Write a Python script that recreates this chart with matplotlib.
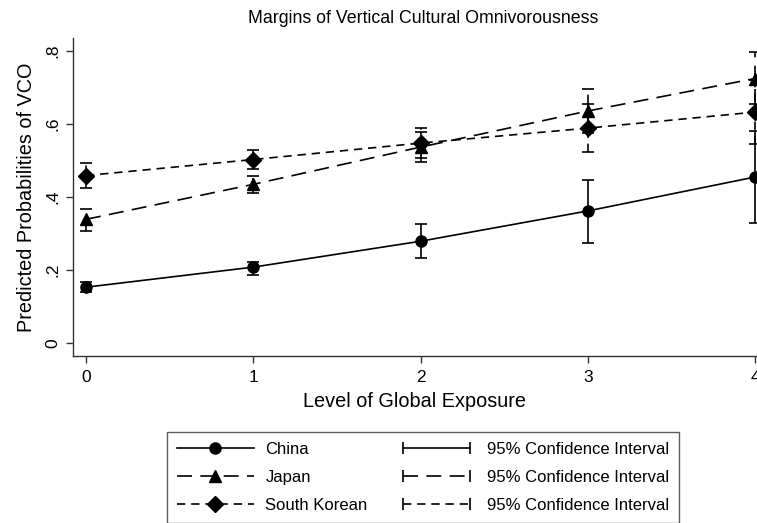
import matplotlib.pyplot as plt
from matplotlib.lines import Line2D
from matplotlib.legend_handler import HandlerLine2D

plt.rcParams['font.family'] = ['Liberation Sans', 'DejaVu Sans']

# Data
exposure = [0, 1, 2, 3, 4]

china = [0.153, 0.208, 0.279, 0.362, 0.455]
china_lo = [0.140, 0.186, 0.233, 0.274, 0.329]
china_hi = [0.167, 0.222, 0.326, 0.447, 0.581]

japan = [0.339, 0.435, 0.537, 0.636, 0.725]
japan_lo = [0.308, 0.411, 0.496, 0.576, 0.656]
japan_hi = [0.368, 0.459, 0.578, 0.696, 0.797]

korea = [0.459, 0.503, 0.548, 0.589, 0.633]
korea_lo = [0.425, 0.478, 0.507, 0.523, 0.545]
korea_hi = [0.493, 0.529, 0.590, 0.655, 0.721]

yticks = [0, 0.2, 0.4, 0.6, 0.8]
ytick_labels = ['0', '.2', '.4', '.6', '.8']

countries = ['China', 'Japan', 'South Korean']
values = [china, japan, korea]
lows = [china_lo, japan_lo, korea_lo]
highs = [china_hi, japan_hi, korea_hi]
markers = ['o', '^', 'D']
msizes = [8, 8, 8]
styles = ['-', (0, (9, 5)), (0, (5, 3.5))]

lw = 1.2
fig = plt.figure(figsize=(7.57, 5.23), dpi=100)
ax = fig.add_axes([0.0964, 0.3193, 0.9036, 0.6077])

handles = []
ci_handles = []
for name, v, lo, hi, m, ms, ls in zip(countries, values, lows, highs, markers, msizes, styles):
    yerr = [[a - b for a, b in zip(v, lo)], [b - a for a, b in zip(v, hi)]]
    eb = ax.errorbar(exposure, v, yerr=yerr, fmt='none', ecolor='black',
                     elinewidth=lw, capsize=4.5, capthick=lw)
    eb[2][0].set_linestyle(ls)
    ln, = ax.plot(exposure, v, color='black', lw=lw, linestyle=ls,
                  marker=m, markersize=ms, markerfacecolor='black',
                  markeredgecolor='black')
    handles.append(ln)
    ci = Line2D([], [], color='black', lw=lw, linestyle=ls, marker='|',
                markersize=8, markeredgewidth=lw)
    ci_handles.append(ci)

ax.set_xlim(-0.078, 4.012)
ax.set_ylim(-0.0356, 0.8356)
ax.set_xticks(exposure)
ax.set_yticks(yticks)
ax.set_yticklabels(ytick_labels, rotation=90, va='center')
ax.tick_params(axis='both', direction='out', length=5, width=1, labelsize=12.5,
               color='#333333')
ax.tick_params(axis='y', pad=4)
ax.tick_params(axis='x', pad=5)
for s in ['top', 'right']:
    ax.spines[s].set_visible(False)
for s in ['left', 'bottom']:
    ax.spines[s].set_linewidth(1.0)
    ax.spines[s].set_color('#333333')

ax.set_xlabel('Level of Global Exposure', fontsize=14.3, labelpad=5)
ax.set_ylabel('Predicted Probabilities of VCO', fontsize=14.3, labelpad=7)
fig.text(0.559, 0.965, 'Margins of Vertical Cultural Omnivorousness',
         ha='center', va='center', fontsize=12.8)

hmap = {h: HandlerLine2D(numpoints=2) for h in ci_handles}
leg = fig.legend(handles + ci_handles, countries + ['95% Confidence Interval'] * 3,
                 ncol=2, loc='upper left', bbox_to_anchor=(0.2206, 0.174),
                 borderaxespad=0, frameon=True, fancybox=False,
                 edgecolor='#333333', fontsize=12, handlelength=4.6,
                 handletextpad=0.7, columnspacing=1.85, labelspacing=0.79,
                 borderpad=0.6, handler_map=hmap)
leg.get_frame().set_linewidth(1.0)

fig.savefig('out.png', dpi=100)
